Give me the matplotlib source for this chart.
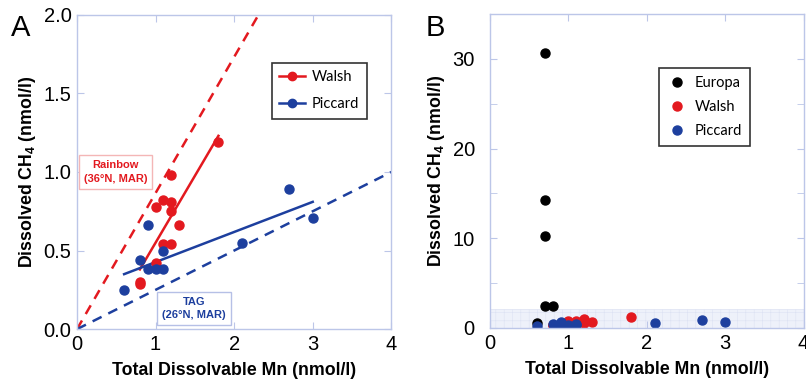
import matplotlib.pyplot as plt
from matplotlib.ticker import MultipleLocator

plt.rcParams['font.family'] = ['Liberation Sans', 'DejaVu Sans']
plt.rcParams['mathtext.fontset'] = 'custom'
plt.rcParams['mathtext.rm'] = 'Liberation Sans'
plt.rcParams['mathtext.bf'] = 'Liberation Sans:bold'
plt.rcParams['mathtext.default'] = 'bf'
plt.rcParams['hatch.linewidth'] = 0.4

# Datos
walsh_mn = [1.8, 1.2, 1.0, 1.1, 1.2, 1.2, 1.3, 1.1, 1.2, 1.0, 0.8, 0.8]
walsh_ch4 = [1.19, 0.98, 0.78, 0.82, 0.81, 0.75, 0.66, 0.54, 0.54, 0.42, 0.30, 0.29]
piccard_mn = [0.6, 0.8, 0.9, 0.9, 1.0, 1.1, 1.1, 2.1, 2.7, 3.0]
piccard_ch4 = [0.25, 0.44, 0.66, 0.38, 0.38, 0.38, 0.50, 0.55, 0.89, 0.71]
europa_mn = [0.7, 0.7, 0.7, 0.7, 0.8, 0.6]
europa_ch4 = [30.7, 14.3, 10.3, 2.5, 2.5, 0.56]

# Rectas de ajuste (extremos) y referencias de las dorsales
walsh_fit_x = [0.8, 1.8]
walsh_fit_y = [0.38, 1.23]
piccard_fit_x = [0.6, 3.0]
piccard_fit_y = [0.35, 0.81]
rainbow_x = [0, 2.31]
rainbow_y = [0, 2.0]
tag_x = [0, 4.0]
tag_y = [0, 1.0]

rojo = "#e3191f"
azul = "#1d3f9e"
marco = "#bcc6e8"
fuente_leyenda = {"family": "Lato", "size": 10.5}

fig = plt.figure(figsize=(8.06, 3.9), dpi=100)
axA = fig.add_axes([0.0955, 0.156, 0.39, 0.806])
axB = fig.add_axes([0.608, 0.159, 0.389, 0.805])


def estilo(ax, pad_y=4):
    for s in ax.spines.values():
        s.set_color(marco)
        s.set_linewidth(1.0)
    ax.tick_params(which="both", direction="in", top=True, right=True,
                   color=marco, labelsize=14.5, length=5, pad=4)
    ax.tick_params(axis="y", pad=pad_y)
    ax.set_xlabel("Total Dissolvable Mn (nmol/l)", fontsize=12.8, fontweight="bold", labelpad=6)
    ax.set_ylabel("Dissolved CH$_4$ (nmol/l)", fontsize=12.8, fontweight="bold", labelpad=4)


# Panel A
axA.plot(rainbow_x, rainbow_y, color=rojo, linestyle="--", linewidth=1.8, dashes=(4, 3))
axA.plot(tag_x, tag_y, color=azul, linestyle="--", linewidth=1.8, dashes=(4, 3))
axA.plot(walsh_fit_x, walsh_fit_y, color=rojo, linewidth=1.8)
axA.plot(piccard_fit_x, piccard_fit_y, color=azul, linewidth=1.8)
axA.plot(walsh_mn, walsh_ch4, "o", color=rojo, markersize=6.5, zorder=3)
axA.plot(piccard_mn, piccard_ch4, "o", color=azul, markersize=6.5, zorder=3)
axA.plot([], [], "-o", color=rojo, markersize=6, linewidth=1.8, label="Walsh")
axA.plot([], [], "-o", color=azul, markersize=6, linewidth=1.8, label="Piccard")
axA.set_xlim(0, 4)
axA.set_ylim(0, 2.0)
axA.xaxis.set_major_locator(MultipleLocator(1))
axA.yaxis.set_major_locator(MultipleLocator(0.5))
axA.yaxis.set_major_formatter(plt.FormatStrFormatter("%.1f"))
estilo(axA)
legA = axA.legend(loc="upper left", bbox_to_anchor=(0.62, 0.847), prop=fuente_leyenda,
                  frameon=True, fancybox=False, edgecolor="black", borderaxespad=0,
                  handlelength=1.8, handletextpad=0.45, labelspacing=0.9, borderpad=0.5)
legA.get_frame().set_linewidth(1.2)

axA.text(0.49, 1.0, "Rainbow\n(36°N, MAR)", color=rojo, fontsize=8, fontweight="bold",
         ha="center", va="center", linespacing=1.4,
         bbox=dict(boxstyle="square,pad=0.45", facecolor="white", edgecolor="#f4b6b6"))
axA.text(1.49, 0.13, "TAG\n(26°N, MAR)", color=azul, fontsize=8, fontweight="bold",
         ha="center", va="center", linespacing=1.4,
         bbox=dict(boxstyle="square,pad=0.45", facecolor="white", edgecolor="#b6c0e6"))

# Panel B
axB.axhspan(0, 2.1, facecolor="#eef1fa", edgecolor="#dde2f3", hatch="++", linewidth=0.5, zorder=0)
axB.plot(europa_mn, europa_ch4, "o", color="black", markersize=6.5, label="Europa")
axB.plot(walsh_mn, walsh_ch4, "o", color=rojo, markersize=6.5, label="Walsh")
axB.plot(piccard_mn, piccard_ch4, "o", color=azul, markersize=6.5, label="Piccard")
axB.set_xlim(0, 4)
axB.set_ylim(0, 35)
axB.xaxis.set_major_locator(MultipleLocator(1))
axB.yaxis.set_major_locator(MultipleLocator(10))
axB.yaxis.set_minor_locator(MultipleLocator(5))
estilo(axB, pad_y=11)
legB = axB.legend(loc="upper left", bbox_to_anchor=(0.54, 0.828), prop=fuente_leyenda,
                  frameon=True, fancybox=False, edgecolor="black", borderaxespad=0,
                  handlelength=1.3, handletextpad=0.6, labelspacing=0.7, borderpad=0.55)
legB.get_frame().set_linewidth(1.2)

fig.text(0.014, 0.965, "A", fontsize=21, va="top")
fig.text(0.528, 0.965, "B", fontsize=21, va="top")

fig.savefig("out.png", dpi=100)
